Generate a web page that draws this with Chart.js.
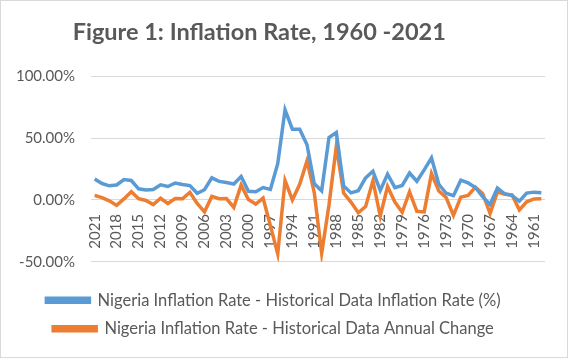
<!DOCTYPE html>
<html>
<head>
<meta charset="utf-8">
<script src="https://cdn.jsdelivr.net/npm/chart.js@4.4.1/dist/chart.umd.min.js"></script>
<style>
  html, body { margin: 0; padding: 0; background: #fff; }
  #wrap { width: 568px; height: 358px; box-sizing: border-box; border: 1px solid #d9d9d9; }
</style>
</head>
<body>
<div id="wrap"><canvas id="inflationChart" width="566" height="356"></canvas></div>
<script>
 // Sample data (years run from 2021 back to 1960)
 const years = [];
 for (let y = 2021; y >= 1960; y--) years.push(String(y));

 const inflationRate = [
     16.95, 13.25, 11.40, 12.09, 16.52, 15.70, 9.01, 8.06, 8.48, 12.22,
     10.84, 13.72, 12.55, 11.58, 5.39, 8.24, 17.86, 15.00, 14.03, 12.88,
     18.87, 6.93, 6.62, 9.97, 8.53, 29.27, 72.84, 57.17, 57.17, 44.59,
     13.01, 7.36, 50.47, 54.51, 11.29, 5.72, 7.44, 17.82, 23.21, 7.70,
     20.81, 9.97, 11.71, 21.71, 15.09, 24.30, 33.96, 12.67, 5.40, 3.46,
     15.99, 13.76, 10.07, 2.5, -3.7, 9.7, 5.0, 3.5, -1.0, 5.5,
     6.3, 5.8
 ];

 const annualChange = [
     3.70, 1.85, -0.69, -4.43, 0.82, 6.69, 0.95, -0.42, -3.74, 1.38,
     -2.88, 1.17, 0.97, 6.19, -2.85, -9.62, 2.86, 0.97, 1.15, -5.99,
     11.94, 0.31, -3.35, 1.44, -20.74, -43.57, 15.67, 0.00, 12.58, 31.58,
     5.65, -43.11, -4.04, 43.22, 5.57, -1.72, -10.38, -5.39, 15.51, -13.11,
     10.84, -1.74, -10.00, 6.62, -9.21, -9.66, 21.29, 7.27, 1.94, -12.53,
     2.23, 3.69, 10.33, 5.0, -11.0, 6.5, 4.5, 4.0, -8.0, -1.5,
     0.8, 0.9
 ];

 const yTicks = [-50, 0, 50, 100];

 const textColor = '#595959';
 const gridColor = '#d9d9d9';

 const ctx = document.getElementById('inflationChart').getContext('2d');
 new Chart(ctx, {
     type: 'line',
     data: {
         labels: years,
         datasets: [{
             label: 'Nigeria Inflation Rate - Historical Data Inflation Rate (%)',
             data: inflationRate,
             borderColor: '#5b9bd5',
             backgroundColor: '#5b9bd5',
             borderWidth: 3.5,
             pointRadius: 0,
             tension: 0
         }, {
             label: 'Nigeria Inflation Rate - Historical Data Annual Change',
             data: annualChange,
             borderColor: '#ed7d31',
             backgroundColor: '#ed7d31',
             borderWidth: 3.5,
             pointRadius: 0,
             tension: 0
         }]
     },
     options: {
         responsive: false,
         animation: false,
         layout: { padding: { left: 1, right: 22, top: 0, bottom: 10 } },
         plugins: {
             title: {
                 display: true,
                 // trailing spaces nudge the centred title a bit to the left, like the original
                 text: 'Figure 1: Inflation Rate, 1960 -2021     ',
                 color: textColor,
                 font: { family: 'Lato', size: 23.5, weight: 'bold' },
                 padding: { top: 17, bottom: 30 }
             },
             legend: {
                 position: 'bottom',
                 // empty legend title just leaves a gap above the legend rows
                 title: { display: true, text: '', font: { size: 1 }, padding: { top: 17, bottom: 0 } },
                 labels: {
                     color: textColor,
                     font: { family: 'Lato', size: 16.5 },
                     boxWidth: 43,
                     boxHeight: 4,
                     padding: 12
                 }
             },
             tooltip: { enabled: false }
         },
         scales: {
             x: {
                 position: { y: 0 },
                 offset: true,
                 grid: { display: false, drawTicks: false },
                 border: { display: false },
                 ticks: {
                     autoSkip: false,
                     minRotation: 90,
                     maxRotation: 90,
                     padding: 14,
                     color: textColor,
                     font: { family: 'Lato', size: 15 },
                     callback: function(value, index) {
                         return index % 3 === 0 ? years[index] : null;
                     }
                 }
             },
             y: {
                 min: yTicks[0],
                 max: yTicks[yTicks.length - 1],
                 afterBuildTicks: function(axis) {
                     axis.ticks = yTicks.map(v => ({ value: v }));
                 },
                 afterFit: function(axis) {
                     axis.width = 89;
                 },
                 grid: { color: gridColor, lineWidth: 1, drawTicks: false },
                 border: { display: false },
                 ticks: {
                     padding: 16,
                     color: textColor,
                     font: { family: 'Lato', size: 15 },
                     callback: function(value) {
                         return value.toFixed(2) + '%';
                     }
                 }
             }
         }
     }
 });
</script>
</body>
</html>
